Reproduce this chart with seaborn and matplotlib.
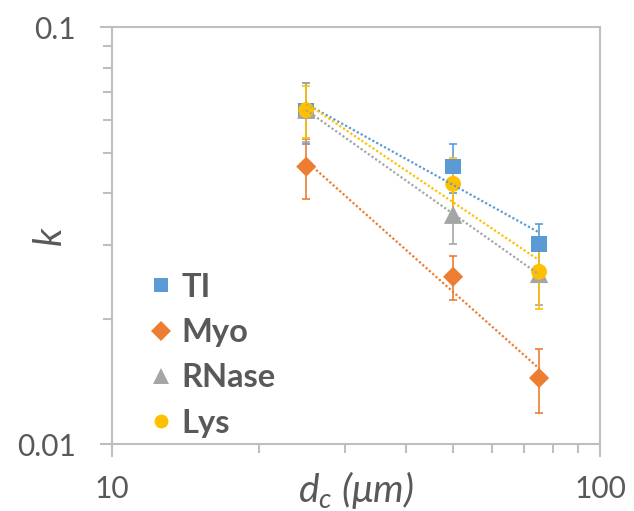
import numpy as np
import pandas as pd
import matplotlib
matplotlib.use("Agg")
import matplotlib.pyplot as plt
import seaborn as sns
from matplotlib.lines import Line2D

# ---- data ----
dc = [25, 50, 75]
series = ["TI", "Myo", "RNase", "Lys"]
k_TI = [0.0631, 0.0463, 0.0302]
k_Myo = [0.0463, 0.0252, 0.0144]
k_RNase = [0.0634, 0.0355, 0.0256]
k_Lys = [0.0633, 0.0421, 0.0259]
err_TI = [0.0105, 0.0062, 0.0035]
err_Myo = [0.0076, 0.0031, 0.0025]
err_RNase = [0.0102, 0.0053, 0.0040]
err_Lys = [0.0091, 0.0064, 0.0048]

colors = {"TI": "#5B9BD5", "Myo": "#ED7D31", "RNase": "#A5A5A5", "Lys": "#FFC000"}
markers = {"TI": "s", "Myo": "D", "RNase": "^", "Lys": "o"}
sizes = {"TI": 125, "Myo": 105, "RNase": 175, "Lys": 130}

vals = {"TI": k_TI, "Myo": k_Myo, "RNase": k_RNase, "Lys": k_Lys}
errs = {"TI": err_TI, "Myo": err_Myo, "RNase": err_RNase, "Lys": err_Lys}

rows = []
for s in series:
    for x, y, e in zip(dc, vals[s], errs[s]):
        rows.append({"dc": x, "k": y, "err": e, "protein": s})
df = pd.DataFrame(rows)

sns.set_style("white")
plt.rcParams["font.family"] = ["Lato", "DejaVu Sans"]
plt.rcParams["mathtext.fontset"] = "custom"
plt.rcParams["mathtext.it"] = "Lato:italic"
plt.rcParams["mathtext.rm"] = "Lato:italic"

fig = plt.figure(figsize=(6.34, 5.11), dpi=100)
ax = fig.add_axes([0.1767, 0.1311, 0.7697, 0.8155])
ax.set_xscale("log")
ax.set_yscale("log")

for s in series:
    sub = df[df.protein == s]
    ax.errorbar(sub.dc, sub.k, yerr=sub.err, fmt="none", ecolor=colors[s],
                elinewidth=1.2, capsize=3, capthick=1.2, zorder=2)
    sns.scatterplot(data=sub, x="dc", y="k", marker=markers[s], s=sizes[s],
                    color=colors[s], edgecolor="none", linewidth=0, ax=ax,
                    zorder=3, legend=False)

# power-law trendlines
for s in series:
    sub = df[df.protein == s]
    b, a = np.polyfit(np.log10(sub.dc), np.log10(sub.k), 1)
    xs = np.linspace(sub.dc.min(), sub.dc.max(), 50)
    ax.plot(xs, 10 ** (a + b * np.log10(xs)), color=colors[s], lw=1.6,
            linestyle=(0, (1, 1)), zorder=4)

ax.set_xlim(10, 100)
ax.set_ylim(0.01, 0.1)
ax.set_xticks([10, 100])
ax.set_xticklabels(["10", "100"])
ax.set_yticks([0.01, 0.1])
ax.set_yticklabels(["0.01", "0.1"])
ax.set_xticks([20, 30, 40, 50, 60, 70, 80, 90], minor=True)
ax.set_yticks([0.02, 0.03, 0.04, 0.05, 0.06, 0.07, 0.08, 0.09], minor=True)
ax.xaxis.set_minor_formatter(matplotlib.ticker.NullFormatter())
ax.yaxis.set_minor_formatter(matplotlib.ticker.NullFormatter())

spine_c = "#BFBFBF"
for sp in ax.spines.values():
    sp.set_color(spine_c)
    sp.set_linewidth(1.5)
ax.tick_params(axis="both", which="major", direction="out", length=9, width=1.5,
               color=spine_c, labelsize=21.5, labelcolor="#595959")
ax.tick_params(axis="x", which="major", pad=13)
ax.tick_params(axis="y", which="major", pad=17)
ax.tick_params(axis="both", which="minor", direction="out", length=6.5, width=1.5,
               color=spine_c)
ax.tick_params(left=True, bottom=True, which="both")

ax.set_xlabel(r"$d_c$ ($\mu$m)", fontsize=28, color="#595959", fontstyle="italic")
ax.xaxis.set_label_coords(0.5, -0.11)
ax.xaxis.label.set_verticalalignment("center")
ax.set_ylabel("k", fontsize=28, color="#595959", fontstyle="italic", rotation=90)
ax.yaxis.set_label_coords(-0.127, 0.5)
ax.yaxis.label.set_verticalalignment("center")

handles = [Line2D([], [], linestyle="none", marker=markers[s], color=colors[s],
                  markersize=10 if s != "RNase" else 12, markeredgewidth=0)
           for s in series]
leg = ax.legend(handles, series, loc="center left", bbox_to_anchor=(0.034, 0.213),
                frameon=False, handletextpad=0.12, labelspacing=0.5, borderpad=0,
                prop={"size": 23.5, "weight": "bold"}, handlelength=1.0)
for t in leg.get_texts():
    t.set_color("#595959")

fig.savefig("out.png", dpi=100)
